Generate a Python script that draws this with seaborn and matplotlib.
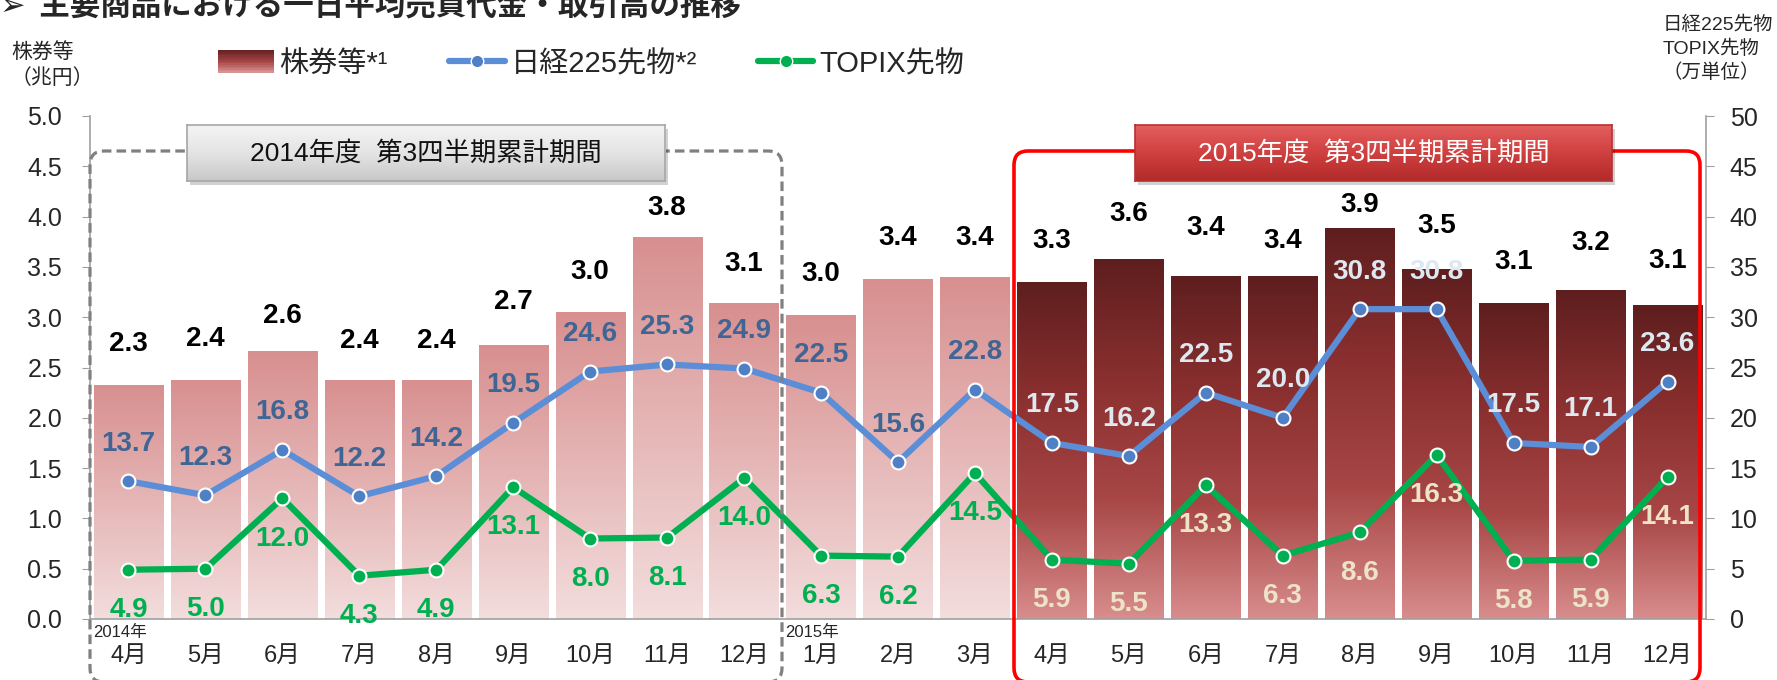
import numpy as np
import pandas as pd
import matplotlib
matplotlib.use("Agg")
import matplotlib.pyplot as plt
import seaborn as sns
from matplotlib.colors import LinearSegmentedColormap
from matplotlib.patches import FancyBboxPatch, Rectangle, Patch
from matplotlib.lines import Line2D
from matplotlib.legend_handler import HandlerBase
from matplotlib.transforms import IdentityTransform

sns.set_style("white")
plt.rcParams['font.family'] = ['Liberation Sans', 'Noto Sans CJK JP', 'DejaVu Sans']

# ---- data ----
months = ['4月', '5月', '6月', '7月', '8月', '9月', '10月', '11月', '12月',
          '1月', '2月', '3月',
          '4月', '5月', '6月', '7月', '8月', '9月', '10月', '11月', '12月']
stocks = [2.33, 2.38, 2.66, 2.38, 2.38, 2.72, 3.05, 3.80, 3.14,
          3.02, 3.38, 3.40,
          3.35, 3.58, 3.41, 3.41, 3.89, 3.48, 3.14, 3.27, 3.12]
stock_labels = ['2.3', '2.4', '2.6', '2.4', '2.4', '2.7', '3.0', '3.8', '3.1',
                '3.0', '3.4', '3.4',
                '3.3', '3.6', '3.4', '3.4', '3.9', '3.5', '3.1', '3.2', '3.1']
stock_label_y = [2.73, 2.78, 3.01, 2.76, 2.76, 3.15, 3.45, 4.09, 3.53,
                 3.43, 3.79, 3.79,
                 3.76, 4.03, 3.89, 3.76, 4.12, 3.91, 3.55, 3.74, 3.56]
nikkei = [13.7, 12.3, 16.8, 12.2, 14.2, 19.5, 24.6, 25.3, 24.9,
          22.5, 15.6, 22.8,
          17.5, 16.2, 22.5, 20.0, 30.8, 30.8, 17.5, 17.1, 23.6]
topix = [4.9, 5.0, 12.0, 4.3, 4.9, 13.1, 8.0, 8.1, 14.0,
         6.3, 6.2, 14.5,
         5.9, 5.5, 13.3, 6.3, 8.6, 16.3, 5.8, 5.9, 14.1]
fy2015_start = 12
year_marks = {0: '2014年', 9: '2015年'}

W, H = 1777, 680
fig = plt.figure(figsize=(W / 100, H / 100), dpi=100)
ax = fig.add_axes([90 / W, 1 - 619 / H, 1616 / W, 503 / H])

pos = np.arange(len(stocks))
df = pd.DataFrame({'pos': pos, 'stocks': stocks, 'nikkei': nikkei, 'topix': topix})

sns.barplot(data=df, x='pos', y='stocks', ax=ax, width=0.9, color='#d99494',
            saturation=1, linewidth=0)

# gradient fill for each bar
light = LinearSegmentedColormap.from_list('light', ['#f3dddd', '#d88f8f'])
dark = LinearSegmentedColormap.from_list('dark', ['#d98d8d', '#a84646', '#8a2f2f', '#5e1e1e'])
grad = np.linspace(0, 1, 256).reshape(-1, 1)
for i, bar in enumerate(ax.patches):
    x0, w, h = bar.get_x(), bar.get_width(), bar.get_height()
    cmap = dark if i >= fy2015_start else light
    im = ax.imshow(grad, extent=[x0, x0 + w, 0, h], origin='lower', aspect='auto',
                   cmap=cmap, zorder=1.5)
    im.set_clip_path(bar)
    bar.set_facecolor('none')

ax.set_xlim(-0.5, len(stocks) - 0.5)
ax.set_ylim(0, 5)
ax.set_yticks(np.arange(0, 5.01, 0.5))
ax.set_yticklabels([f'{v:.1f}' for v in np.arange(0, 5.01, 0.5)])
ax.set_xticks(np.arange(-0.5, len(stocks), 1))
ax.set_xticklabels([])
ax.set_xticks(pos, minor=True)
ax.set_xticklabels(months, minor=True)
ax.tick_params(axis='x', which='major', length=6, color='#a0a0a0', direction='out')
ax.tick_params(axis='x', which='minor', length=0, pad=19, labelsize=17)
ax.tick_params(axis='y', length=6, color='#a0a0a0', direction='out', pad=14, labelsize=18)
ax.set_xlabel('')
ax.set_ylabel('')
for s in ['top', 'right']:
    ax.spines[s].set_visible(False)
for s in ['left', 'bottom']:
    ax.spines[s].set_color('#a0a0a0')
    ax.spines[s].set_linewidth(1.2)

for i in pos:
    ax.text(i, stock_label_y[i], stock_labels[i], ha='center', va='center',
            fontsize=20, fontweight='bold', color='black', zorder=5)

for i, t in year_marks.items():
    ax.annotate(t, (i - 0.5, 0), xycoords=('data', 'axes fraction'), xytext=(2, -10),
                textcoords='offset points', ha='left', va='center', fontsize=12,
                annotation_clip=False)

# right axis: futures volumes
ax2 = ax.twinx()
ax2.set_zorder(ax.get_zorder() + 1)
ax2.patch.set_visible(False)
sns.lineplot(data=df, x='pos', y='nikkei', ax=ax2, color='#5b8ed6', linewidth=4.5,
             marker='o', markersize=10, markerfacecolor='#4f7fc4',
             markeredgecolor='white', markeredgewidth=1.5)
sns.lineplot(data=df, x='pos', y='topix', ax=ax2, color='#00b050', linewidth=4.5,
             marker='o', markersize=10, markerfacecolor='#00b050',
             markeredgecolor='white', markeredgewidth=1.5)
ax2.set_ylim(0, 50)
ax2.set_yticks(np.arange(0, 51, 5))
ax2.set_xlim(-0.5, len(stocks) - 0.5)
ax2.set_xlabel('')
ax2.set_ylabel('')
ax2.tick_params(axis='y', length=6, color='#a0a0a0', direction='out', pad=11, labelsize=18)
for s in ['top', 'left', 'bottom']:
    ax2.spines[s].set_visible(False)
ax2.spines['right'].set_color('#a0a0a0')
ax2.spines['right'].set_linewidth(1.2)

for i in pos:
    in_fy15 = i >= fy2015_start
    ax2.annotate(f'{nikkei[i]:.1f}', (i, nikkei[i]), xytext=(0, 27), textcoords='offset points',
                 ha='center', va='center', fontsize=20, fontweight='bold',
                 color='#dde8f0' if in_fy15 else '#3f6594', annotation_clip=False, zorder=6)
    ax2.annotate(f'{topix[i]:.1f}', (i, topix[i]), xytext=(0, -29), textcoords='offset points',
                 ha='center', va='center', fontsize=20, fontweight='bold',
                 color='#ede3c8' if in_fy15 else '#00b050', annotation_clip=False, zorder=6)

# period frames (pixel coordinates, y measured from top)
def frame(x0, x1, y0, y1, **kw):
    p = FancyBboxPatch((x0, H - y1), x1 - x0, y1 - y0,
                       boxstyle='round,pad=0,rounding_size=14',
                       transform=IdentityTransform(), fill=False, zorder=2, **kw)
    fig.add_artist(p)

frame(90, 782, 151, 682, edgecolor='#808080', linewidth=2.3, linestyle=(0, (3, 1.6)))
frame(1014, 1700, 151, 682, edgecolor='#ff0000', linewidth=2.6)

def period_label(x0, x1, y0, y1, colors, edge, text, tcolor):
    shadow = Rectangle(((x0 + 3) / W, 1 - (y1 + 4) / H), (x1 - x0) / W, (y1 - y0) / H,
                       transform=fig.transFigure, facecolor='#000000', alpha=0.18,
                       edgecolor='none', zorder=4)
    fig.add_artist(shadow)
    lab = fig.add_axes([x0 / W, 1 - y1 / H, (x1 - x0) / W, (y1 - y0) / H])
    lab.set_zorder(5)
    lab.imshow(grad, extent=[0, 1, 0, 1], origin='lower', aspect='auto',
               cmap=LinearSegmentedColormap.from_list('lab', colors))
    lab.set_xticks([])
    lab.set_yticks([])
    for s in lab.spines.values():
        s.set_color(edge)
        s.set_linewidth(1.2)
    lab.text(0.5, 0.5, text, ha='center', va='center', fontsize=19, color=tcolor,
             transform=lab.transAxes)

period_label(187, 665, 125, 181, ['#c8c8c8', '#e4e4e4', '#f5f5f5'], '#a6a6a6',
             '2014年度  第3四半期累計期間', '#111111')
period_label(1135, 1612, 125, 181, ['#b22a2a', '#d04040', '#e46060'], '#b83030',
             '2015年度  第3四半期累計期間', 'white')

# legend (bar swatch drawn as a vertical gradient)
class GradientSwatch(HandlerBase):
    def create_artists(self, legend, orig_handle, xdescent, ydescent, width, height,
                       fontsize, trans):
        n = 14
        cols = LinearSegmentedColormap.from_list(
            'sw', ['#d99494', '#a84646', '#6a2424'])(np.linspace(0, 1, n))
        return [Rectangle((-xdescent, -ydescent + height * k / n), width, height / n + 0.4,
                          facecolor=cols[k], edgecolor='none', transform=trans)
                for k in range(n)]

bar_handle = Patch(facecolor='#9a4040', edgecolor='none')
handles = [bar_handle,
           Line2D([], [], color='#5b8ed6', linewidth=4.5, marker='o', markersize=9,
                  markerfacecolor='#4f7fc4', markeredgecolor='white'),
           Line2D([], [], color='#00b050', linewidth=4.5, marker='o', markersize=9,
                  markerfacecolor='#00b050', markeredgecolor='white')]
fig.legend(handles, ['株券等*¹', '日経225先物*²', 'TOPIX先物'], loc='center left',
           bbox_to_anchor=(192 / W, 1 - 64 / H), ncol=3, frameon=False, fontsize=21,
           handlelength=1.9, handleheight=0.8, handletextpad=0.2, columnspacing=2.1,
           handler_map={bar_handle: GradientSwatch()})

# titles and axis captions
fig.text(0.0, 1 - 6 / H, '➢  主要商品における一日平均売買代金・取引高の推移',
         fontsize=22, fontweight='bold', va='center', ha='left',
         family=['Noto Sans CJK JP', 'DejaVu Sans'])
fig.text(11 / W, 1 - 65 / H, '株券等\n（兆円）', fontsize=15, va='center', ha='left',
         multialignment='left', linespacing=1.35)
fig.text(1773 / W, 1 - 49 / H, '日経225先物\nTOPIX先物\n（万単位）', fontsize=14,
         va='center', ha='right', multialignment='left', linespacing=1.4)

fig.savefig('out.png', dpi=100)
